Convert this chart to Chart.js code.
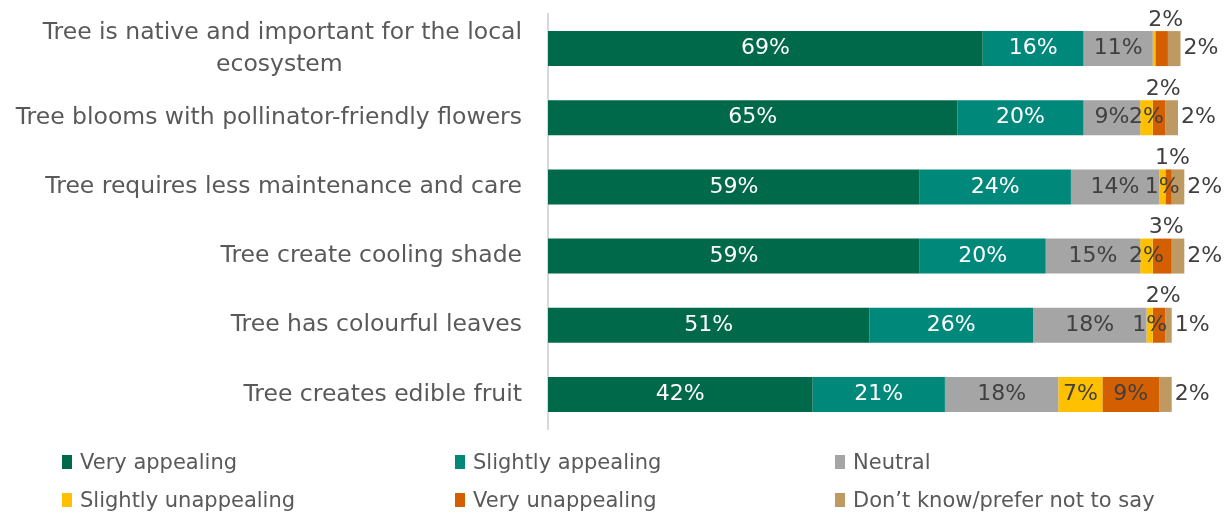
<!DOCTYPE html>
<html>
<head>
<meta charset="utf-8">
<script src="https://cdn.jsdelivr.net/npm/chart.js"></script>
<style>
  html, body { margin: 0; padding: 0; background: #fff; }
  #wrap { position: relative; width: 1227px; height: 516px; }
  #legenda { position: absolute; left: 0; top: 0; width: 1227px; height: 516px; font-family: "DejaVu Sans"; font-size: 21px; color: #595959; }
  .item { position: absolute; display: flex; align-items: center; white-space: nowrap; height: 26px; }
  .item .cx { width: 10px; height: 14px; margin-right: 8px; display: inline-block; }
</style>
</head>
<body>
<div id="wrap">
  <canvas id="grafico" width="1227" height="516"></canvas>
  <div id="legenda"></div>
</div>
<script>
const categories = [
    ['Tree is native and important for the local', 'ecosystem' + ' '.repeat(24)],
    'Tree blooms with pollinator-friendly flowers',
    'Tree requires less maintenance and care',
    'Tree create cooling shade',
    'Tree has colourful leaves',
    'Tree creates edible fruit'
];
const seriesNames = ['Very appealing', 'Slightly appealing', 'Neutral', 'Slightly unappealing', 'Very unappealing', 'Don\u2019t know/prefer not to say'];
const seriesColors = ['#00694A', '#00887A', '#A5A5A5', '#FFC000', '#D45F00', '#BE9A62'];

const veryAppealing = [69, 65, 59, 59, 51, 42];
const slightlyAppealing = [16, 20, 24, 20, 26, 21];
const neutral = [11, 9, 14, 15, 18, 18];
const slightlyUnappealing = [0.4, 2, 1, 2, 1, 7];
const veryUnappealing = [2, 2, 1, 3, 2, 9];
const dontKnow = [2, 2, 2, 2, 1, 2];

const valores = [veryAppealing, slightlyAppealing, neutral, slightlyUnappealing, veryUnappealing, dontKnow];

// rótulos de percentagem em cada segmento
const rotulos = {
    id: 'rotulos',
    afterDatasetsDraw(chart) {
        const ctx = chart.ctx;
        ctx.save();
        ctx.font = '22px "DejaVu Sans"';
        ctx.textBaseline = 'middle';
        chart.data.datasets.forEach((ds, i) => {
            const meta = chart.getDatasetMeta(i);
            meta.data.forEach((bar, j) => {
                const v = ds.data[j];
                if (Math.round(v) < 1) return; // fatia minúscula fica sem rótulo
                const txt = Math.round(v) + '%';
                const p = bar.getProps(['x', 'y', 'base', 'height'], true);
                const meio = (p.x + p.base) / 2;
                ctx.fillStyle = i < 2 ? '#ffffff' : '#404040';
                if (i === 5) {
                    ctx.textAlign = 'left';
                    ctx.fillText(txt, p.x + 3, p.y);
                } else if (i === 4 && v < 5) {
                    ctx.textAlign = 'center';
                    ctx.fillText(txt, meio + 4, p.y - p.height / 2 - 11);
                } else {
                    ctx.textAlign = 'center';
                    ctx.fillText(txt, meio, p.y);
                }
            });
        });
        ctx.restore();
    }
};

const grafico = new Chart(document.getElementById('grafico'), {
    type: 'bar',
    data: {
        labels: categories,
        datasets: valores.map((d, i) => ({
            label: seriesNames[i],
            data: d,
            backgroundColor: seriesColors[i],
            borderWidth: 0,
            barPercentage: 0.506,
            categoryPercentage: 1,
            clip: false
        }))
    },
    options: {
        indexAxis: 'y',
        responsive: false,
        animation: false,
        devicePixelRatio: 1,
        layout: { padding: { top: 14, right: 49, bottom: 87, left: 0 } },
        scales: {
            x: { stacked: true, min: 0, max: 100, display: false },
            y: {
                stacked: true,
                grid: { display: false, drawTicks: false },
                border: { display: true, color: '#D9D9D9', width: 2 },
                ticks: {
                    color: '#595959',
                    padding: 26,
                    font: { family: 'DejaVu Sans', size: 23.5, lineHeight: 1.36 }
                },
                afterFit(scale) {
                    scale.width = 548;
                    // o rótulo de duas linhas não deve encolher a área das barras
                    scale.paddingTop = 0;
                    scale.paddingBottom = 0;
                }
            }
        },
        plugins: {
            legend: { display: false },
            tooltip: { enabled: false }
        }
    },
    plugins: [rotulos]
});

// legenda em grelha de 3 colunas
const colunas = [62, 455, 835];
const linhas = [462, 500];
const legenda = document.getElementById('legenda');
grafico.data.datasets.forEach((ds, i) => {
    const item = document.createElement('div');
    item.className = 'item';
    item.style.left = colunas[i % 3] + 'px';
    item.style.top = (linhas[Math.floor(i / 3)] - 13) + 'px';
    item.innerHTML = '<span class="cx" style="background:' + ds.backgroundColor + '"></span>' + ds.label;
    legenda.appendChild(item);
});
</script>
</body>
</html>
